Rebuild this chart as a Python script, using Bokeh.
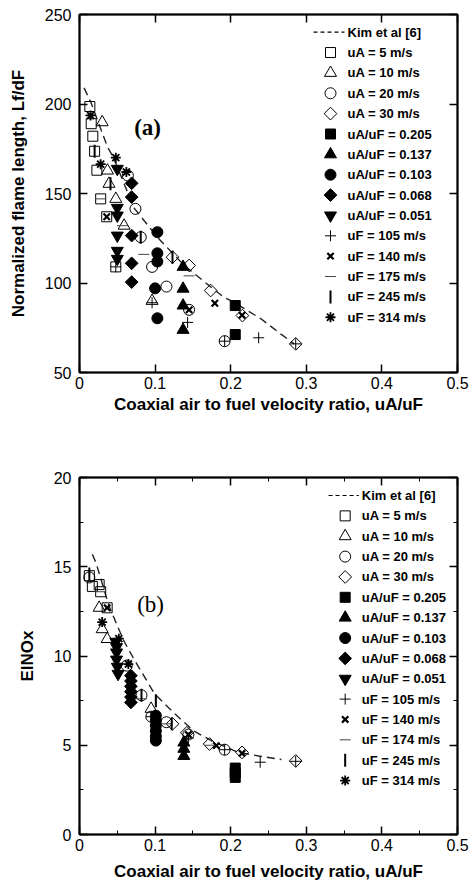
import math
from bokeh.plotting import figure
from bokeh.models import LinearAxis, FixedTicker, Label, Range1d
from bokeh.core.properties import value
from bokeh.layouts import column
from bokeh.embed import file_html
from bokeh.resources import INLINE

# ---------------- data ----------------
x_ticks = [0, 0.1, 0.2, 0.3, 0.4, 0.5]
x_tick_labels = ["0", "0.1", "0.2", "0.3", "0.4", "0.5"]
x_minor = [0.05, 0.15, 0.25, 0.35, 0.45]
ya_ticks = [50, 100, 150, 200, 250]
ya_tick_labels = ["50", "100", "150", "200", "250"]
yb_ticks = [0, 5, 10, 15, 20]
yb_tick_labels = ["0", "5", "10", "15", "20"]
yb_minor = [2.5, 7.5, 12.5, 17.5]

labels_a = ["Kim et al [6]", "uA = 5 m/s", "uA = 10 m/s", "uA = 20 m/s", "uA = 30 m/s",
            "uA/uF = 0.205", "uA/uF = 0.137", "uA/uF = 0.103", "uA/uF = 0.068", "uA/uF = 0.051",
            "uF = 105 m/s", "uF = 140 m/s", "uF = 175 m/s", "uF = 245 m/s", "uF = 314 m/s"]
labels_b = ["Kim et al [6]", "uA = 5 m/s", "uA = 10 m/s", "uA = 20 m/s", "uA = 30 m/s",
            "uA/uF = 0.205", "uA/uF = 0.137", "uA/uF = 0.103", "uA/uF = 0.068", "uA/uF = 0.051",
            "uF = 105 m/s", "uF = 140 m/s", "uF = 174 m/s", "uF = 245 m/s", "uF = 314 m/s"]

# Panel (a): normalized flame length
kim_a_x = [0.006, 0.015, 0.037, 0.045, 0.072, 0.103, 0.138, 0.163, 0.191, 0.204, 0.24, 0.266, 0.284]
kim_a_y = [209, 201, 176, 170, 142, 125.6, 110, 101.4, 92, 89.3, 80, 71.6, 66]

a_ua5_x = [0.0137, 0.0155, 0.0176, 0.020, 0.023, 0.028, 0.036, 0.048]
a_ua5_y = [198.6, 189, 182, 173.6, 163, 147, 137, 109]
a_ua10_x = [0.030, 0.037, 0.039, 0.048, 0.059, 0.096]
a_ua10_y = [189.8, 162.8, 155.4, 147, 132, 90]
a_ua20_x = [0.064, 0.074, 0.081, 0.096, 0.115, 0.145, 0.192]
a_ua20_y = [160, 141.4, 125.6, 109, 98, 85, 67.5]
a_ua30_x = [0.123, 0.145, 0.1735, 0.2155, 0.286]
a_ua30_y = [114.4, 109.8, 95.8, 81.8, 66]
a_r205_x = [0.206, 0.206]
a_r205_y = [87.4, 71.2]
a_r137_x = [0.137, 0.137, 0.137, 0.137]
a_r137_y = [109, 96.8, 87.4, 73.8]
a_r103_x = [0.103, 0.103, 0.103, 0.100, 0.103]
a_r103_y = [128.4, 116.6, 112, 97, 80.3]
a_r068_x = [0.069, 0.069, 0.069, 0.069, 0.069]
a_r068_y = [155.7, 148, 126.5, 111, 100.5]
a_r051_x = [0.050, 0.050, 0.050, 0.050, 0.050, 0.050]
a_r051_y = [163.8, 142, 137.7, 126.5, 118, 113.5]
a_uf105_x = [0.048, 0.096, 0.143, 0.192, 0.237, 0.286]
a_uf105_y = [109, 89, 78, 67.5, 69.4, 66]
a_uf140_x = [0.036, 0.145, 0.179, 0.215]
a_uf140_y = [137, 85, 88.7, 82]
a_uf175_x = [0.028, 0.057, 0.085, 0.145]
a_uf175_y = [147, 132, 116, 104]
a_uf245_x = [0.020, 0.041, 0.081, 0.123]
a_uf245_y = [173.6, 155.4, 125.6, 114.4]
a_uf314_x = [0.0146, 0.028, 0.048, 0.062]
a_uf314_y = [193.6, 166.4, 170, 162]

# Panel (b): EINOx
kim_b_x = [0.017, 0.022, 0.039, 0.058, 0.071, 0.099, 0.125, 0.151, 0.177, 0.21, 0.237, 0.267]
kim_b_y = [15.7, 15.2, 12.8, 10.9, 9.9, 7.9, 6.8, 5.8, 5.2, 4.6, 4.4, 4.2]

b_ua5_x = [0.013, 0.017, 0.026, 0.028, 0.0366]
b_ua5_y = [14.5, 13.9, 14.0, 13.6, 12.7]
b_ua10_x = [0.026, 0.030, 0.0366, 0.0947]
b_ua10_y = [12.7, 11.5, 10.95, 7.04]
b_ua20_x = [0.013, 0.0625, 0.082, 0.095, 0.115, 0.144, 0.192]
b_ua20_y = [14.4, 9.46, 7.8, 6.6, 6.29, 5.6, 4.75]
b_ua30_x = [0.123, 0.142, 0.172, 0.215, 0.286]
b_ua30_y = [6.2, 5.7, 5.07, 4.6, 4.12]
b_r205_x = [0.206, 0.206, 0.206]
b_r205_y = [3.72, 3.45, 3.2]
b_r137_x = [0.138, 0.138, 0.138]
b_r137_y = [5.15, 4.8, 4.4]
b_r103_x = [0.101, 0.101, 0.101, 0.101, 0.101, 0.101]
b_r103_y = [6.66, 6.4, 6.1, 5.8, 5.5, 5.26]
b_r068_x = [0.068, 0.068, 0.068, 0.068, 0.068, 0.068]
b_r068_y = [8.9, 8.6, 8.3, 8.0, 7.7, 7.4]
b_r051_x = [0.048, 0.049, 0.049, 0.049, 0.050, 0.051]
b_r051_y = [10.8, 10.5, 10.2, 9.8, 9.4, 9.0]
b_uf105_x = [0.095, 0.144, 0.192, 0.239, 0.286]
b_uf105_y = [6.6, 5.4, 4.75, 4.05, 4.1]
b_uf140_x = [0.0366, 0.144, 0.181, 0.215]
b_uf140_y = [12.7, 5.6, 4.98, 4.55]
b_uf174_x = [0.028, 0.082, 0.115, 0.172]
b_uf174_y = [13.6, 7.6, 6.2, 5.0]
b_uf245_x = [0.013, 0.082, 0.101, 0.122]
b_uf245_y = [14.6, 7.8, 7.5, 6.2]
b_uf314_x = [0.030, 0.052, 0.0646]
b_uf314_y = [11.9, 10.97, 9.55]

series_a = [(a_ua5_x, a_ua5_y), (a_ua10_x, a_ua10_y), (a_ua20_x, a_ua20_y), (a_ua30_x, a_ua30_y),
            (a_r205_x, a_r205_y), (a_r137_x, a_r137_y), (a_r103_x, a_r103_y), (a_r068_x, a_r068_y),
            (a_r051_x, a_r051_y), (a_uf105_x, a_uf105_y), (a_uf140_x, a_uf140_y), (a_uf175_x, a_uf175_y),
            (a_uf245_x, a_uf245_y), (a_uf314_x, a_uf314_y)]
series_b = [(b_ua5_x, b_ua5_y), (b_ua10_x, b_ua10_y), (b_ua20_x, b_ua20_y), (b_ua30_x, b_ua30_y),
            (b_r205_x, b_r205_y), (b_r137_x, b_r137_y), (b_r103_x, b_r103_y), (b_r068_x, b_r068_y),
            (b_r051_x, b_r051_y), (b_uf105_x, b_uf105_y), (b_uf140_x, b_uf140_y), (b_uf174_x, b_uf174_y),
            (b_uf245_x, b_uf245_y), (b_uf314_x, b_uf314_y)]

# ---------------- styles ----------------
FONT = "Liberation Sans"
OPEN = dict(fill_color=None, line_color="black", line_width=1)
FILLED = dict(fill_color="black", line_color="black", line_width=1)
marker_styles = [
    dict(marker="square", size=10, **OPEN),
    dict(marker="triangle", size=12, **OPEN),
    dict(marker="circle", size=11, **OPEN),
    dict(marker="square", size=9, angle=math.pi / 4, **OPEN),
    dict(marker="square", size=10, **FILLED),
    dict(marker="triangle", size=12, **FILLED),
    dict(marker="circle", size=11, **FILLED),
    dict(marker="square", size=9, angle=math.pi / 4, **FILLED),
    dict(marker="inverted_triangle", size=12, **FILLED),
    dict(marker="cross", size=11, line_color="black", line_width=1),
    dict(marker="x", size=9, line_color="black", line_width=2.2),
    dict(marker="dash", size=11, line_color="#444444", line_width=1),
    dict(marker="dash", size=13, angle=math.pi / 2, line_color="black", line_width=2),
    dict(marker="asterisk", size=10, line_color="black", line_width=1.8),
]


def style_axis(ax, ticks, tick_labels, minor, show_labels=True):
    ax.ticker = FixedTicker(ticks=ticks, minor_ticks=minor)
    ax.major_tick_in = 8
    ax.major_tick_out = 0
    ax.minor_tick_in = 4
    ax.minor_tick_out = 0
    ax.major_tick_line_width = 1.5
    ax.axis_line_width = 2
    ax.axis_line_color = "black"
    ax.major_tick_line_color = "black"
    ax.minor_tick_line_color = "black"
    if show_labels:
        ax.major_label_overrides = dict(zip(ticks, tick_labels))
        ax.major_label_text_font = FONT
        ax.major_label_text_font_size = "16px"
        ax.major_label_text_color = "black"
    else:
        ax.major_label_overrides = {t: "" for t in ticks}
        ax.major_label_standoff = 0


def make_panel(height, borders, xrange, yrange, y_ticks, y_tick_labels, y_minor, ylabel,
               kim_x, kim_y, series, labels, tag, tag_xy, tag_style, leg, xlab_standoff):
    left, right, top, bottom = borders
    fw = 476 - left - right
    fh = height - top - bottom
    p = figure(width=476, height=height, output_backend="svg", toolbar_location=None,
               x_range=Range1d(*xrange), y_range=Range1d(*yrange),
               min_border_left=left, min_border_right=right,
               min_border_top=top, min_border_bottom=bottom)
    p.xgrid.visible = False
    p.ygrid.visible = False
    p.outline_line_color = "black"
    p.outline_line_width = 1.5
    p.background_fill_color = "white"
    p.border_fill_color = "white"

    style_axis(p.xaxis[0], x_ticks, x_tick_labels, x_minor if y_minor else [])
    style_axis(p.yaxis[0], y_ticks, y_tick_labels, y_minor)
    p.xaxis.major_label_standoff = 4
    p.yaxis.major_label_standoff = 8
    p.xaxis.axis_label = "Coaxial air to fuel velocity ratio, uA/uF"
    p.yaxis.axis_label = ylabel
    for ax in (p.xaxis[0], p.yaxis[0]):
        ax.axis_label_text_font = FONT
        ax.axis_label_text_font_style = "bold"
        ax.axis_label_text_font_size = "17px"
        ax.axis_label_text_color = "black"
    p.xaxis.axis_label_standoff = xlab_standoff
    p.yaxis.axis_label_standoff = 14

    top_ax = LinearAxis()
    style_axis(top_ax, x_ticks, x_tick_labels, x_minor if y_minor else [], show_labels=False)
    p.add_layout(top_ax, "above")
    right_ax = LinearAxis()
    style_axis(right_ax, y_ticks, y_tick_labels, y_minor, show_labels=False)
    p.add_layout(right_ax, "right")

    # data
    p.line(kim_x, kim_y, line_color="#222222", line_width=1.4, line_dash="8 5")
    for (xs, ys), st in zip(series, marker_styles):
        p.scatter(xs, ys, **st)

    # legend (laid out in screen pixels, converted through the panel's ranges)
    def sx(px):
        return xrange[0] + (px - left) / fw * (xrange[1] - xrange[0])

    def sy(py):
        return yrange[1] - (py - top) / fh * (yrange[1] - yrange[0])

    line_x0, line_x1, mark_x, text_x, row0, step = leg
    rows = [row0 + i * step for i in range(len(labels))]
    p.line([sx(line_x0), sx(line_x1)], [sy(rows[0])] * 2, line_color="black",
           line_width=1.2, line_dash="4 3")
    for st, ry in zip(marker_styles, rows[1:]):
        p.scatter([sx(mark_x)], [sy(ry)], **st)
    p.text([sx(text_x)] * len(labels), [sy(r) for r in rows], text=labels,
           text_font=value(FONT), text_font_style="bold", text_font_size="13px",
           text_color="black", text_baseline="middle", text_align="left")

    p.add_layout(Label(x=tag_xy[0], y=tag_xy[1], text=tag, text_align="center",
                       text_baseline="middle", text_font="Liberation Serif",
                       text_font_size="23px", text_font_style=tag_style, text_color="black"))
    return p


pa = make_panel(440, (79, 19, 14, 68), (0, 0.5), (50, 250), ya_ticks, ya_tick_labels, [],
                "Normalized flame length, Lf/dF", kim_a_x, kim_a_y, series_a, labels_a,
                "(a)", (0.09, 187), "bold", (313, 344, 330, 347, 31.7, 20.36), 3)
pb = make_panel(443, (70, 19, 37, 49), (0, 0.5), (0, 20), yb_ticks, yb_tick_labels, yb_minor,
                "EINOx", kim_b_x, kim_b_y, series_b, labels_b,
                "(b)", (0.094, 12.9), "normal", (325, 356, 342, 359, 55, 20.36), 8)

layout = column(pa, pb, spacing=0)
open("out.html", "w").write(file_html(layout, INLINE))
